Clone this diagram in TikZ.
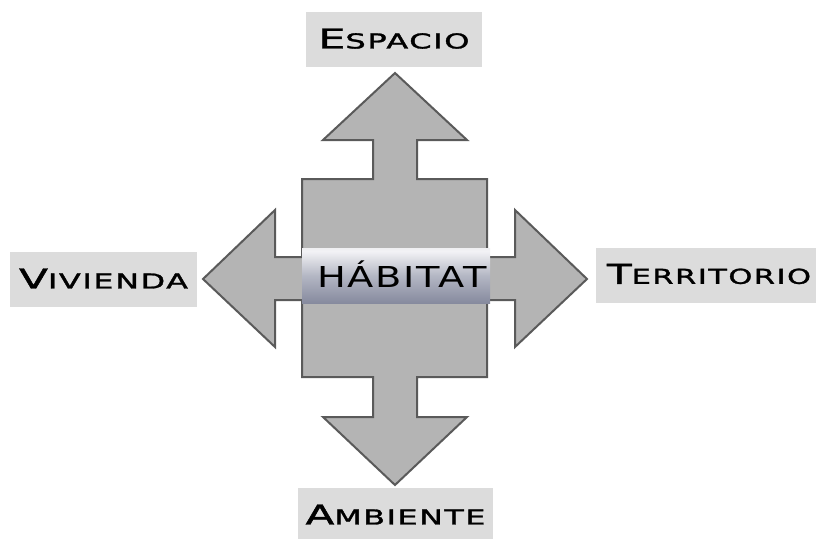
\documentclass[tikz,border=0pt]{standalone}
\usepackage{fontspec}
\usepackage{graphicx}
\setmainfont{DejaVu Sans}
\newfontfamily\labfont[LetterSpace=5,FakeBold=1.3]{DejaVu Sans}
\newfontfamily\habfont[LetterSpace=4]{DejaVu Sans}
\definecolor{arrowfill}{HTML}{B4B4B4}
\definecolor{arrowline}{HTML}{5A5A5A}
\definecolor{boxfill}{HTML}{DCDCDC}
\definecolor{mA}{HTML}{D4D6DE}
\definecolor{mB}{HTML}{7A7E92}
\definecolor{mC}{HTML}{868A9E}
\definecolor{mD}{HTML}{B4B7C4}
\definecolor{mE}{HTML}{F2F2F5}
\definecolor{mF}{HTML}{E2E2E6}
\definecolor{mG}{HTML}{C6C6CA}
\pgfdeclareverticalshading{metal}{100bp}{
  color(0bp)=(mA);
  color(10bp)=(mB);
  color(25bp)=(mC);
  color(50bp)=(mD);
  color(72bp)=(mE);
  color(88bp)=(mF);
  color(100bp)=(mG)}
\newcommand{\lab}[3]{\resizebox{#3}{\height}{\labfont\fontsize{27.4}{30}\selectfont #1\fontsize{20.6}{24}\selectfont #2}}
\tikzset{
  labbox/.style={fill=boxfill, inner sep=0pt, minimum height=55pt},
  bigarrow/.style={fill=arrowfill, draw=arrowline, line width=2pt, line join=miter}
}
\begin{document}
\begin{tikzpicture}[x=1pt,y=-1pt]
\useasboundingbox (0,0) rectangle (816,538);
% cross arrow shape
\draw[bigarrow] (395,73) -- (467,140) -- (417,140) -- (417,179) -- (487,179) -- (487,257)
  -- (515,257) -- (515,210) -- (587,279) -- (515,347) -- (515,300) -- (487,300)
  -- (487,377) -- (417,377) -- (417,417) -- (467,417) -- (395,485) -- (323,417)
  -- (373,417) -- (373,377) -- (302,377) -- (302,300) -- (275,300) -- (275,347)
  -- (203,279) -- (275,210) -- (275,257) -- (302,257) -- (302,179) -- (373,179)
  -- (373,140) -- (323,140) -- cycle;
% metallic band
\shade[shading=metal] (302,248) rectangle (490,303);
\node (hab) at (402,274) {\resizebox{169pt}{\height}{\habfont\fontsize{28.8}{32}\selectfont HÁBITAT}};
% labels
\node[labbox, minimum width=176pt] (esp) at (394,39.5) {\raisebox{2pt}{\lab{E}{SPACIO}{151pt}}};
\node[labbox, minimum width=187pt] (viv) at (103.5,279.5) {\raisebox{2pt}{\lab{V}{IVIENDA}{169pt}}};
\node[labbox, minimum width=226pt, anchor=west] (ter) at (596,275.5) {};
\node at (709,274) {\lab{T}{ERRITORIO}{204pt}};
\node[labbox, minimum width=195pt] (amb) at (395.5,515.5) {\raisebox{2pt}{\lab{A}{MBIENTE}{180pt}}};
\end{tikzpicture}
\end{document}
